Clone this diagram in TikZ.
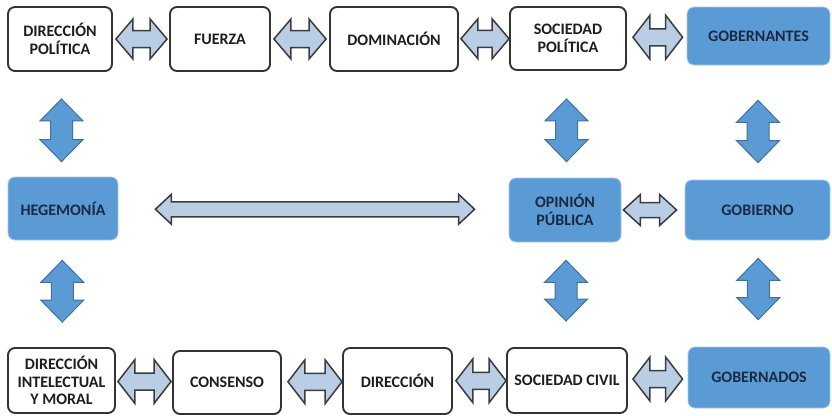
\documentclass[tikz,border=0pt]{standalone}
\usepackage{fontspec}
\setmainfont{Carlito}
\usetikzlibrary{calc}

\definecolor{boxline}{HTML}{333333}
\definecolor{boxtext}{HTML}{1E1E1E}
\definecolor{bluefill}{HTML}{5B9BD5}
\definecolor{blueedge}{HTML}{A9C8EA}
\definecolor{bluetext}{HTML}{1B2A41}
\definecolor{lightarrow}{HTML}{B9CDE5}
\definecolor{arrowline}{HTML}{3C3C3C}
\definecolor{vertline}{HTML}{41719C}

\tikzset{
  basebox/.style={rectangle, rounded corners=7pt, inner sep=2pt, align=center,
    font=\fontsize{16}{17.5}\selectfont\bfseries},
  wbox/.style={basebox, draw=boxline, line width=1.9pt, fill=white, text=boxtext},
  bbox/.style={basebox, draw=blueedge, line width=0.8pt, fill=bluefill, text=bluetext},
  harr/.style={fill=lightarrow, draw=arrowline, line width=1.5pt, line join=miter},
  varr/.style={fill=bluefill, draw=vertline, line width=1pt, line join=miter}
}

% horizontal double arrow between two nodes:
% #1 style, #2 left anchor, #3 right anchor, #4/#5 gaps, #6 head half-height,
% #7 shaft half-height, #8 head length
\newcommand\hfat[8][harr]{%
  \path let \p1=(#2), \p2=(#3) in
    ({\x1+#4pt},{(\y1+\y2)/2}) coordinate (hA)
    ({\x2-#5pt},{(\y1+\y2)/2}) coordinate (hB);
  \draw[#1] (hA) -- ++(#8,#6) -- ++(0,{#7-#6}) -- ($(hB)+(-#8,#7)$)
    -- ++(0,{#6-#7}) -- (hB) -- ++(-#8,-#6) -- ++(0,{#6-#7})
    -- ($(hA)+(#8,-#7)$) -- ++(0,{#7-#6}) -- cycle;
}

% vertical double arrow between two nodes:
% #1 style, #2 upper anchor, #3 lower anchor, #4/#5 gaps, #6 head half-width,
% #7 shaft half-width, #8 head length
\newcommand\vfat[8][varr]{%
  \path let \p1=(#2), \p2=(#3) in
    ({(\x1+\x2)/2},{\y1-#4pt}) coordinate (vA)
    ({(\x1+\x2)/2},{\y2+#5pt}) coordinate (vB);
  \draw[#1] (vA) -- ++(#6,#8) -- ++({#7-#6},0) -- ($(vB)+(#7,-#8)$)
    -- ++({#6-#7},0) -- (vB) -- ++(-#6,-#8) -- ++({#6-#7},0)
    -- ($(vA)+(-#7,#8)$) -- ++({#7-#6},0) -- cycle;
}

\begin{document}
\begin{tikzpicture}[x=1pt, y=-1pt]
  \useasboundingbox (0,0) rectangle (832,415);
  \fill[white] (0,0) rectangle (832,415);

  % top row
  \node[wbox, minimum width=104, minimum height=64] (dp)   at (60,39)    {DIRECCIÓN\\POLÍTICA};
  \node[wbox, minimum width=100, minimum height=64] (fu)   at (220,39)   {FUERZA};
  \node[wbox, minimum width=128, minimum height=64] (dom)  at (394,39)   {DOMINACIÓN};
  \node[wbox, minimum width=116, minimum height=63] (sp)   at (568,38.5) {SOCIEDAD\\POLÍTICA};
  \node[bbox, minimum width=143, minimum height=58] (gtes) at (758.5,36) {GOBERNANTES};

  % middle row
  \node[bbox, minimum width=110, minimum height=63] (heg)  at (63,208.5) {HEGEMONÍA};
  \node[bbox, minimum width=112, minimum height=64] (op)   at (565,210)  {OPINIÓN\\PÚBLICA};
  \node[bbox, minimum width=145, minimum height=60] (gob)  at (757.5,210) {GOBIERNO};

  % bottom row
  \node[wbox, minimum width=107, minimum height=65] (dim)  at (61.5,380.5) {DIRECCIÓN\\INTELECTUAL\\Y MORAL};
  \node[wbox, minimum width=108, minimum height=63] (con)  at (227,382.5)  {CONSENSO};
  \node[wbox, minimum width=109, minimum height=66] (dir)  at (397.5,381)  {DIRECCIÓN};
  \node[wbox, minimum width=120, minimum height=65] (sc)   at (567,380.5)  {SOCIEDAD CIVIL};
  \node[bbox, minimum width=142, minimum height=61] (gdos) at (759,377.5)  {GOBERNADOS};

  % horizontal links, top row
  \hfat{dp.east}{fu.west}{3}{2}{20}{8.5}{17}
  \hfat{fu.east}{dom.west}{3}{3}{20}{8.5}{17}
  \hfat{dom.east}{sp.west}{2}{0}{20}{8.5}{17}
  \hfat{sp.east}{gtes.west}{6}{4}{22}{8.5}{17}

  % horizontal links, middle row
  \hfat{heg.east}{op.west}{37}{34}{15}{7.5}{16}
  \hfat{op.east}{gob.west}{2}{8}{15.5}{7.5}{17}

  % horizontal links, bottom row
  \hfat{dim.east}{con.west}{2}{1}{22}{8.5}{17}
  \hfat{con.east}{dir.west}{6}{0}{22}{8.5}{17}
  \hfat{dir.east}{sc.west}{3}{0}{22}{8.5}{17}
  \hfat{sc.east}{gdos.west}{5}{5}{22}{8.5}{17}

  % vertical links
  \vfat{dp.south}{heg.north}{27}{15}{21.5}{11}{22}
  \vfat{heg.south}{dim.north}{20}{25}{21.5}{11}{22}
  \vfat{sp.south}{op.north}{28}{16}{21.5}{11}{22}
  \vfat{op.south}{sc.north}{18}{26}{21.5}{11}{22}
  \vfat{gtes.south}{gob.north}{35}{17}{21.5}{11}{22}
  \vfat{gob.south}{gdos.north}{18}{27}{21.5}{11}{22}
\end{tikzpicture}
\end{document}
